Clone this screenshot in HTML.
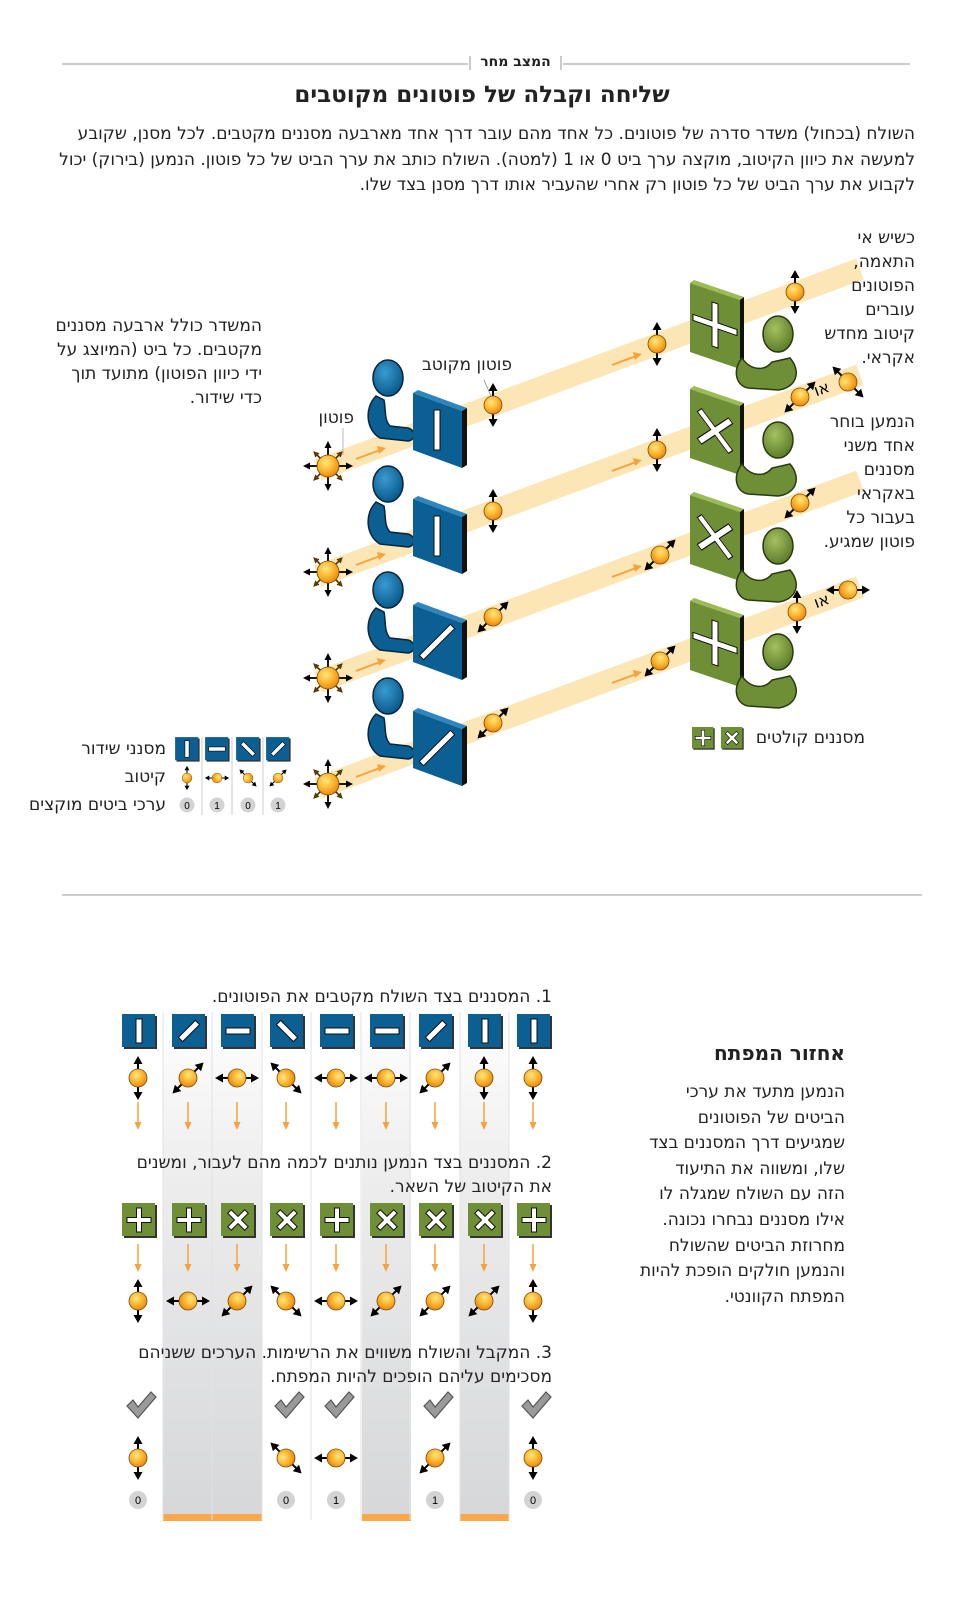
<!DOCTYPE html>
<html><head><meta charset="utf-8">
<style>
body{margin:0;background:#fff;}
#w{position:relative;width:960px;height:1599px;overflow:hidden;background:#fff;font-family:"DejaVu Sans","Liberation Sans",sans-serif;color:#222;}
.t{position:absolute;direction:rtl;text-align:right;white-space:nowrap;font-size:17px;line-height:24px;}
svg{position:absolute;left:0;top:0;}
</style></head><body><div id="w">
<svg width="960" height="1599" viewBox="0 0 960 1599">
<defs>
<radialGradient id="og" cx="40%" cy="35%" r="65%"><stop offset="0" stop-color="#ffe680"/><stop offset=".6" stop-color="#fbb32a"/><stop offset="1" stop-color="#e8891a"/></radialGradient>
<radialGradient id="bh" cx="40%" cy="35%" r="65%"><stop offset="0" stop-color="#3a9ad0"/><stop offset="1" stop-color="#0a5a8c"/></radialGradient>
<radialGradient id="gh" cx="40%" cy="35%" r="65%"><stop offset="0" stop-color="#a6c060"/><stop offset="1" stop-color="#5d7e2a"/></radialGradient>
<linearGradient id="band" x1="0" y1="0" x2="0" y2="1"><stop offset="0" stop-color="#fff"/><stop offset=".35" stop-color="#ececed"/><stop offset="1" stop-color="#d6d7d9"/></linearGradient>
<g id="p"><line x1="0" y1="-16" x2="0" y2="16" stroke="#000" stroke-width="2"/><path d="M0,-22L-4.5,-14L4.5,-14ZM0,22L-4.5,14L4.5,14Z"/><circle r="9" fill="url(#og)" stroke="#7a4a00" stroke-width=".8"/></g>
<g id="ar"><line x1="0" y1="-6" x2="0" y2="-20" stroke="#000" stroke-width="1.8"/><path d="M0,-25L-3.5,-18L3.5,-18Z"/></g>
<g id="ar2"><line x1="0" y1="-6" x2="0" y2="-17" stroke="#4a3000" stroke-width="1.6"/><path d="M0,-21L-3,-15L3,-15Z" fill="#5a3a00"/></g>
<g id="s"><use href="#ar"/><use href="#ar2" transform="rotate(45)"/><use href="#ar" transform="rotate(90)"/><use href="#ar2" transform="rotate(135)"/><use href="#ar" transform="rotate(180)"/><use href="#ar2" transform="rotate(225)"/><use href="#ar" transform="rotate(270)"/><use href="#ar2" transform="rotate(315)"/><circle r="11" fill="url(#og)" stroke="#7a4a00" stroke-width=".8"/></g>
<g id="oa"><line x1="0" y1="0" x2="24" y2="-9" stroke="#f7a23a" stroke-width="2"/><path d="M30,-11L21,-13L23,-5Z" fill="#f7a23a"/></g>
<g id="da"><line x1="0" y1="0" x2="0" y2="22" stroke="#f7a23a" stroke-width="1.5"/><path d="M0,28L-3.5,20L3.5,20Z" fill="#f7a23a"/></g>
<g id="bsq"><rect x="-15" y="-15" width="33" height="33" fill="#333"/><rect x="-17" y="-17" width="33" height="33" fill="#0c5f93"/></g>
<g id="gsq"><rect x="-15" y="-15" width="33" height="33" fill="#333"/><rect x="-17" y="-17" width="33" height="33" fill="#6e8f35"/></g>
<g id="sl"><rect x="-3" y="-12" width="6" height="24" fill="#fff" stroke="#111" stroke-width="1"/></g>
<g id="pl"><path d="M-2.5,-12h5v9.5h9.5v5h-9.5v9.5h-5v-9.5h-9.5v-5h9.5z" fill="#fff" stroke="#111" stroke-width="1"/></g>
<g id="chk"><path d="M-14,-2L-8,-8L-3,-1L10,-16L15,-11L-3,10Z" fill="#9a9a9a" stroke="#555" stroke-width="1.2"/></g>
<g id="row">
<line x1="318" y1="470" x2="860" y2="269" stroke="#fde6b6" stroke-width="22"/>
<use href="#oa" transform="translate(356,459)"/>
<use href="#oa" transform="translate(612,365)"/>
<use href="#s" transform="translate(328,466)"/>
<path d="M376,396C364,408 366,430 380,438L408,441C416,440 416,430 408,428L390,426C384,420 386,410 384,400Z" fill="#0c5f93" stroke="#05263d" stroke-width="1.5"/>
<ellipse cx="388" cy="378" rx="15" ry="18" fill="url(#bh)" stroke="#05263d" stroke-width="1.5"/>
<path d="M413,393L418,390L467,408L462,411Z" fill="#2d86c0"/>
<path d="M462,411L467,408L467,465L462,468Z" fill="#111"/>
<path d="M413,393L462,411L462,468L413,450Z" fill="#0c5f93"/>
<path d="M690,283L694,280L744,297L740,300Z" fill="#9cbb55"/>
<path d="M740,300L744,297L744,366L740,369Z" fill="#111"/>
<path d="M690,283L740,300L740,369L690,352Z" fill="#6e8f35"/>
<path d="M742,358C750,370 764,372 772,362L790,358C802,372 796,388 778,390L748,388C736,386 732,370 742,358Z" fill="#6e8f35" stroke="#2a3a10" stroke-width="1.5"/>
<ellipse cx="778" cy="334" rx="15" ry="18" fill="url(#gh)" stroke="#2a3a10" stroke-width="1.5"/>
</g>
</defs>

<line x1="62" y1="64" x2="468" y2="64" stroke="#999" stroke-width="1"/>
<line x1="563" y1="64" x2="910" y2="64" stroke="#999" stroke-width="1"/>
<line x1="470" y1="56" x2="470" y2="70" stroke="#999"/><line x1="561" y1="56" x2="561" y2="70" stroke="#999"/>

<g><use href="#row"/>
<g transform="translate(437,430)"><rect x="-3" y="-20" width="6" height="40" fill="#fff" stroke="#111"/></g>
<g transform="translate(715,325) skewY(19)"><path d="M-3,-22h6v19h19v6h-19v19h-6v-19h-19v-6h19z" fill="#fff" stroke="#111"/></g>
<use href="#p" transform="translate(493,405)"/><use href="#p" transform="translate(657,344)"/><use href="#p" transform="translate(795,292)"/>
</g>
<g transform="translate(0,106)"><use href="#row"/>
<g transform="translate(437,430)"><rect x="-3" y="-20" width="6" height="40" fill="#fff" stroke="#111"/></g>
<g transform="translate(715,325) skewY(19)"><path d="M-3,-22h6v19h19v6h-19v19h-6v-19h-19v-6h19z" transform="rotate(45)" fill="#fff" stroke="#111"/></g>
<use href="#p" transform="translate(493,405)"/><use href="#p" transform="translate(657,344)"/>
</g>
<g transform="translate(0,212)"><use href="#row"/>
<g transform="translate(437,430)"><rect x="-3" y="-22" width="6" height="44" fill="#fff" stroke="#111" transform="rotate(45)"/></g>
<g transform="translate(715,325) skewY(19)"><path d="M-3,-22h6v19h19v6h-19v19h-6v-19h-19v-6h19z" transform="rotate(45)" fill="#fff" stroke="#111"/></g>
<use href="#p" transform="translate(493,405) rotate(45)"/><use href="#p" transform="translate(660,343) rotate(45)"/><use href="#p" transform="translate(800,291) rotate(45)"/>
</g>
<g transform="translate(0,318)"><use href="#row"/>
<g transform="translate(437,430)"><rect x="-3" y="-22" width="6" height="44" fill="#fff" stroke="#111" transform="rotate(45)"/></g>
<g transform="translate(715,325) skewY(19)"><path d="M-3,-22h6v19h19v6h-19v19h-6v-19h-19v-6h19z" fill="#fff" stroke="#111"/></g>
<use href="#p" transform="translate(493,405) rotate(45)"/><use href="#p" transform="translate(660,343) rotate(45)"/>
</g>
<use href="#p" transform="translate(800,397) rotate(45)"/><use href="#p" transform="translate(848,382) rotate(-45)"/>
<use href="#p" transform="translate(797,612)"/><use href="#p" transform="translate(848,590) rotate(90)"/>
<text x="822" y="394" font-size="16" font-family="DejaVu Sans" transform="rotate(-20 822 390)" direction="rtl" text-anchor="middle">או</text>
<text x="822" y="606" font-size="16" font-family="DejaVu Sans" transform="rotate(-20 822 602)" direction="rtl" text-anchor="middle">או</text>
<line x1="484" y1="380" x2="491" y2="396" stroke="#888" stroke-width=".8"/>
<line x1="343" y1="428" x2="343" y2="455" stroke="#aaa" stroke-width=".8"/>

<line x1="202" y1="737" x2="202" y2="815" stroke="#ccc"/><line x1="232" y1="737" x2="232" y2="815" stroke="#ccc"/><line x1="263" y1="737" x2="263" y2="815" stroke="#ccc"/>
<g transform="translate(187,749) scale(.7)"><use href="#bsq"/><use href="#sl"/></g>
<g transform="translate(217,749) scale(.7)"><use href="#bsq"/><use href="#sl" transform="rotate(90)"/></g>
<g transform="translate(248,749) scale(.7)"><use href="#bsq"/><use href="#sl" transform="rotate(-45)"/></g>
<g transform="translate(278,749) scale(.7)"><use href="#bsq"/><use href="#sl" transform="rotate(45)"/></g>
<use href="#p" transform="translate(187,778) scale(.55)"/><use href="#p" transform="translate(217,778) rotate(90) scale(.55)"/><use href="#p" transform="translate(248,778) rotate(-45) scale(.55)"/><use href="#p" transform="translate(278,778) rotate(45) scale(.55)"/>
<g font-size="10" font-family="Liberation Sans" text-anchor="middle">
<circle cx="187" cy="805" r="7.5" fill="#d3d3d3"/><text x="187" y="809">0</text>
<circle cx="217" cy="805" r="7.5" fill="#d3d3d3"/><text x="217" y="809">1</text>
<circle cx="248" cy="805" r="7.5" fill="#d3d3d3"/><text x="248" y="809">0</text>
<circle cx="278" cy="805" r="7.5" fill="#d3d3d3"/><text x="278" y="809">1</text>
</g>
<g transform="translate(703,738) scale(.65)"><use href="#gsq"/><use href="#pl"/></g>
<g transform="translate(732,738) scale(.65)"><use href="#gsq"/><use href="#pl" transform="rotate(45)"/></g>

<line x1="62" y1="895" x2="922" y2="895" stroke="#999"/>

<g fill="url(#band)"><rect x="163" y="1012" width="99" height="508"/><rect x="362" y="1012" width="49" height="508"/><rect x="460" y="1012" width="49" height="508"/></g>
<g fill="#f9a94b"><rect x="163" y="1514" width="99" height="7"/><rect x="362" y="1514" width="49" height="7"/><rect x="460" y="1514" width="49" height="7"/></g>
<g stroke="#e2e2e2"><line x1="212" y1="1012" x2="212" y2="1520"/><line x1="311" y1="1012" x2="311" y2="1520"/><line x1="361" y1="1012" x2="361" y2="1520"/><line x1="410" y1="1012" x2="410" y2="1520"/><line x1="460" y1="1012" x2="460" y2="1520"/><line x1="509" y1="1012" x2="509" y2="1520"/><line x1="163" y1="1012" x2="163" y2="1520"/><line x1="262" y1="1012" x2="262" y2="1520"/></g>

<g transform="translate(139,1031)"><use href="#bsq"/><use href="#sl"/></g>
<g transform="translate(189,1031)"><use href="#bsq"/><use href="#sl" transform="rotate(45)"/></g>
<g transform="translate(238,1031)"><use href="#bsq"/><use href="#sl" transform="rotate(90)"/></g>
<g transform="translate(287,1031)"><use href="#bsq"/><use href="#sl" transform="rotate(-45)"/></g>
<g transform="translate(337,1031)"><use href="#bsq"/><use href="#sl" transform="rotate(90)"/></g>
<g transform="translate(387,1031)"><use href="#bsq"/><use href="#sl" transform="rotate(90)"/></g>
<g transform="translate(436,1031)"><use href="#bsq"/><use href="#sl" transform="rotate(45)"/></g>
<g transform="translate(485,1031)"><use href="#bsq"/><use href="#sl"/></g>
<g transform="translate(534,1031)"><use href="#bsq"/><use href="#sl"/></g>
<use href="#p" transform="translate(138,1078)"/><use href="#p" transform="translate(188,1078) rotate(45)"/><use href="#p" transform="translate(237,1078) rotate(90)"/><use href="#p" transform="translate(286,1078) rotate(-45)"/><use href="#p" transform="translate(336,1078) rotate(90)"/><use href="#p" transform="translate(386,1078) rotate(90)"/><use href="#p" transform="translate(435,1078) rotate(45)"/><use href="#p" transform="translate(484,1078)"/><use href="#p" transform="translate(533,1078)"/>
<g><use href="#da" x="138" y="1102"/><use href="#da" x="188" y="1102"/><use href="#da" x="237" y="1102"/><use href="#da" x="286" y="1102"/><use href="#da" x="336" y="1102"/><use href="#da" x="386" y="1102"/><use href="#da" x="435" y="1102"/><use href="#da" x="484" y="1102"/><use href="#da" x="533" y="1102"/></g>
<g transform="translate(139,1220)"><use href="#gsq"/><use href="#pl"/></g>
<g transform="translate(189,1220)"><use href="#gsq"/><use href="#pl"/></g>
<g transform="translate(238,1220)"><use href="#gsq"/><use href="#pl" transform="rotate(45)"/></g>
<g transform="translate(287,1220)"><use href="#gsq"/><use href="#pl" transform="rotate(45)"/></g>
<g transform="translate(337,1220)"><use href="#gsq"/><use href="#pl"/></g>
<g transform="translate(387,1220)"><use href="#gsq"/><use href="#pl" transform="rotate(45)"/></g>
<g transform="translate(436,1220)"><use href="#gsq"/><use href="#pl" transform="rotate(45)"/></g>
<g transform="translate(485,1220)"><use href="#gsq"/><use href="#pl" transform="rotate(45)"/></g>
<g transform="translate(534,1220)"><use href="#gsq"/><use href="#pl"/></g>
<g><use href="#da" x="138" y="1244"/><use href="#da" x="188" y="1244"/><use href="#da" x="237" y="1244"/><use href="#da" x="286" y="1244"/><use href="#da" x="336" y="1244"/><use href="#da" x="386" y="1244"/><use href="#da" x="435" y="1244"/><use href="#da" x="484" y="1244"/><use href="#da" x="533" y="1244"/></g>
<use href="#p" transform="translate(138,1301)"/><use href="#p" transform="translate(188,1301) rotate(90)"/><use href="#p" transform="translate(237,1301) rotate(45)"/><use href="#p" transform="translate(286,1301) rotate(-45)"/><use href="#p" transform="translate(336,1301) rotate(90)"/><use href="#p" transform="translate(386,1301) rotate(45)"/><use href="#p" transform="translate(435,1301) rotate(45)"/><use href="#p" transform="translate(484,1301) rotate(45)"/><use href="#p" transform="translate(533,1301)"/>
<use href="#chk" x="141" y="1408"/><use href="#chk" x="289" y="1408"/><use href="#chk" x="339" y="1408"/><use href="#chk" x="438" y="1408"/><use href="#chk" x="536" y="1408"/>
<use href="#p" transform="translate(138,1458)"/><use href="#p" transform="translate(286,1458) rotate(-45)"/><use href="#p" transform="translate(336,1458) rotate(90)"/><use href="#p" transform="translate(435,1458) rotate(45)"/><use href="#p" transform="translate(533,1458)"/>
<g font-size="11" font-family="Liberation Sans" text-anchor="middle">
<circle cx="138" cy="1500" r="9" fill="#d3d3d3"/><text x="138" y="1504">0</text>
<circle cx="286" cy="1500" r="9" fill="#d3d3d3"/><text x="286" y="1504">0</text>
<circle cx="336" cy="1500" r="9" fill="#d3d3d3"/><text x="336" y="1504">1</text>
<circle cx="435" cy="1500" r="9" fill="#d3d3d3"/><text x="435" y="1504">1</text>
<circle cx="533" cy="1500" r="9" fill="#d3d3d3"/><text x="533" y="1504">0</text>
</g>
</svg>

<div class="t" style="left:470px;width:91px;text-align:center;top:52px;font-size:14px;line-height:20px;font-weight:bold;">המצב מחר</div>
<div class="t" style="left:0;width:964px;text-align:center;top:80px;font-size:23px;line-height:30px;font-weight:bold;">שליחה וקבלה של פוטונים מקוטבים</div>
<div class="t" style="right:45px;top:122px;line-height:25.5px;">השולח (בכחול) משדר סדרה של פוטונים. כל אחד מהם עובר דרך אחד מארבעה מסננים מקטבים. לכל מסנן, שקובע<br>למעשה את כיוון הקיטוב, מוקצה ערך ביט 0 או 1 (למטה). השולח כותב את ערך הביט של כל פוטון. הנמען (בירוק) יכול<br>לקבוע את ערך הביט של כל פוטון רק אחרי שהעביר אותו דרך מסנן בצד שלו.</div>

<div class="t" style="right:45px;top:226px;">כשיש אי<br>התאמה,<br>הפוטונים<br>עוברים<br>קיטוב מחדש<br>אקראי.</div>
<div class="t" style="right:45px;top:410px;">הנמען בוחר<br>אחד משני<br>מסננים<br>באקראי<br>בעבור כל<br>פוטון שמגיע.</div>
<div class="t" style="right:698px;top:314px;">המשדר כולל ארבעה מסננים<br>מקטבים. כל ביט (המיוצג על<br>ידי כיוון הפוטון) מתועד תוך<br>כדי שידור.</div>
<div class="t" style="right:448px;top:353px;">פוטון מקוטב</div>
<div class="t" style="right:606px;top:406px;">פוטון</div>
<div class="t" style="right:794px;top:737px;">מסנני שידור</div>
<div class="t" style="right:794px;top:765px;">קיטוב</div>
<div class="t" style="right:794px;top:793px;">ערכי ביטים מוקצים</div>
<div class="t" style="right:95px;top:726px;">מסננים קולטים</div>

<div class="t" style="right:408px;top:985px;">1. המסננים בצד השולח מקטבים את הפוטונים.</div>
<div class="t" style="right:408px;top:1151px;">2. המסננים בצד הנמען נותנים לכמה מהם לעבור, ומשנים<br>את הקיטוב של השאר.</div>
<div class="t" style="right:408px;top:1341px;">3. המקבל והשולח משווים את הרשימות. הערכים ששניהם<br>מסכימים עליהם הופכים להיות המפתח.</div>
<div class="t" style="right:115px;top:1039px;font-size:20px;line-height:28px;font-weight:bold;">אחזור המפתח</div>
<div class="t" style="right:115px;top:1080px;line-height:25.6px;">הנמען מתעד את ערכי<br>הביטים של הפוטונים<br>שמגיעים דרך המסננים בצד<br>שלו, ומשווה את התיעוד<br>הזה עם השולח שמגלה לו<br>אילו מסננים נבחרו נכונה.<br>מחרוזת הביטים שהשולח<br>והנמען חולקים הופכת להיות<br>המפתח הקוונטי.</div>
</div></body></html>
